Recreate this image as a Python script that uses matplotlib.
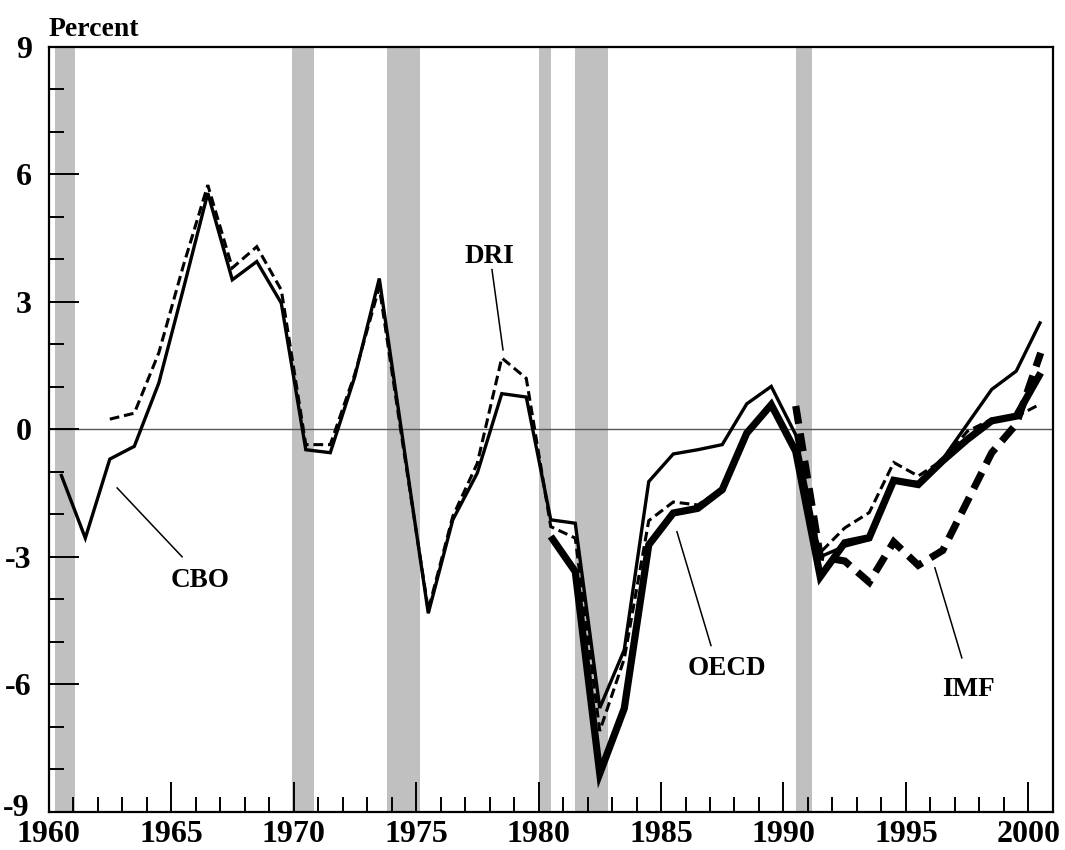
import numpy as np
import matplotlib
matplotlib.use("Agg")
import matplotlib.pyplot as plt
import matplotlib.transforms as mtransforms

plt.rcParams['font.family'] = ['Liberation Serif', 'DejaVu Serif']
plt.rcParams['font.weight'] = 'bold'
plt.rcParams['lines.scale_dashes'] = False
plt.rcParams['axes.unicode_minus'] = False

# recession periods (shaded)
recessions = [(1960.25, 1961.08), (1969.92, 1970.83), (1973.83, 1975.17),
              (1980.0, 1980.5), (1981.5, 1982.83), (1990.5, 1991.17)]

# annual estimates, plotted at mid-year
cbo_years = np.arange(1960, 2001) + 0.5
cbo = [-1.05, -2.56, -0.70, -0.40, 1.09, 3.30, 5.56, 3.52, 3.95, 2.97,
       -0.48, -0.55, 1.24, 3.55, -0.40, -4.33, -2.13, -1.03, 0.84, 0.76,
       -2.13, -2.21, -6.56, -5.19, -1.23, -0.58, -0.48, -0.36, 0.60, 1.01,
       -0.13, -3.00, -2.75, -2.60, -1.20, -1.25, -0.70, 0.12, 0.94, 1.37,
       2.54]

dri_years = np.arange(1962, 2001) + 0.5
dri = [0.24, 0.38, 1.80, 3.85, 5.75, 3.80, 4.30, 3.28,
       -0.36, -0.36, 1.30, 3.35, -0.50, -4.25, -2.05, -0.80, 1.68, 1.20,
       -2.29, -2.56, -7.10, -5.40, -2.15, -1.71, -1.78, -1.40, -0.10, 0.60,
       -0.55, -2.90, -2.32, -1.96, -0.78, -1.10, -0.72, -0.05, 0.24, 0.30,
       0.60]

oecd_years = np.arange(1980, 2001) + 0.5
oecd = [-2.52, -3.35, -8.10, -6.57, -2.72, -1.97, -1.86, -1.42, -0.09, 0.58,
        -0.52, -3.47, -2.67, -2.55, -1.20, -1.30, -0.74, -0.24, 0.20, 0.31,
        1.33]

imf_years = np.arange(1990, 2001) + 0.5
imf = [0.55, -3.00, -3.10, -3.60, -2.65, -3.20, -2.85, -1.70, -0.55, 0.12,
       1.80]

fig = plt.figure(figsize=(10.65, 8.5), dpi=100)
ax = fig.add_axes([0.0456, 0.0451, 0.9431, 0.8996])

for a, b in recessions:
    ax.axvspan(a, b, color='#c0c0c0', lw=0, zorder=0)

ax.axhline(0, color='#555555', lw=1.0, zorder=1)

kw = dict(color='black', solid_joinstyle='miter', dash_joinstyle='miter',
          solid_capstyle='butt', dash_capstyle='butt', zorder=3)
ax.plot(cbo_years, cbo, lw=2.4, **kw)
ax.plot(dri_years, dri, lw=2.2, dashes=(7, 3.5), **kw)
ax.plot(oecd_years, oecd, lw=5.2, **kw)
ax.plot(imf_years, imf, lw=5.2, dashes=(13, 7), **kw)

# labels with leader lines
labels = [("CBO", 1966.2, -3.55, (1962.8, 1965.45), (-1.38, -3.0)),
          ("DRI", 1978.0, 4.06, (1978.1, 1978.55), (3.76, 1.87)),
          ("OECD", 1987.7, -5.62, (1985.65, 1987.04), (-2.41, -5.09)),
          ("IMF", 1997.55, -6.13, (1996.18, 1997.28), (-3.26, -5.38))]
for name, tx, ty, lx, ly in labels:
    ax.text(tx, ty, name, ha='center', va='center', fontsize=19.5,
            fontweight='bold', zorder=4)
    ax.plot(lx, ly, color='black', lw=1.1, zorder=4)

ax.set_xlim(1960, 2001)
ax.set_ylim(-9, 9)
ax.set_xticks(np.arange(1960, 2001, 5))
ax.set_xticks(np.arange(1960, 2001, 1), minor=True)
ax.set_yticks(np.arange(-9, 10, 3))
ax.set_yticks(np.arange(-9, 10, 1), minor=True)

ax.tick_params(which='both', direction='in', width=1.4, top=False, right=False,
               labelsize=23)
ax.tick_params(which='major', length=21.5)
ax.tick_params(which='minor', length=10.8)
ax.tick_params(axis='x', which='major', pad=6)
ax.tick_params(axis='y', which='major', pad=12)
for lab in ax.get_xticklabels() + ax.get_yticklabels():
    lab.set_fontweight('bold')

# lift the bottom y label a little so it clears the first year label
fig.canvas.draw()
bottom_lab = ax.get_yticklabels()[0]
bottom_lab.set_transform(bottom_lab.get_transform() +
                         mtransforms.ScaledTranslation(-2 / 72, 5 / 72,
                                                       fig.dpi_scale_trans))

for s in ax.spines.values():
    s.set_linewidth(1.6)

fig.text(0.0456, 0.965, "Percent", ha='left', va='center', fontsize=20,
         fontweight='bold')

fig.savefig("out.png", dpi=100)
